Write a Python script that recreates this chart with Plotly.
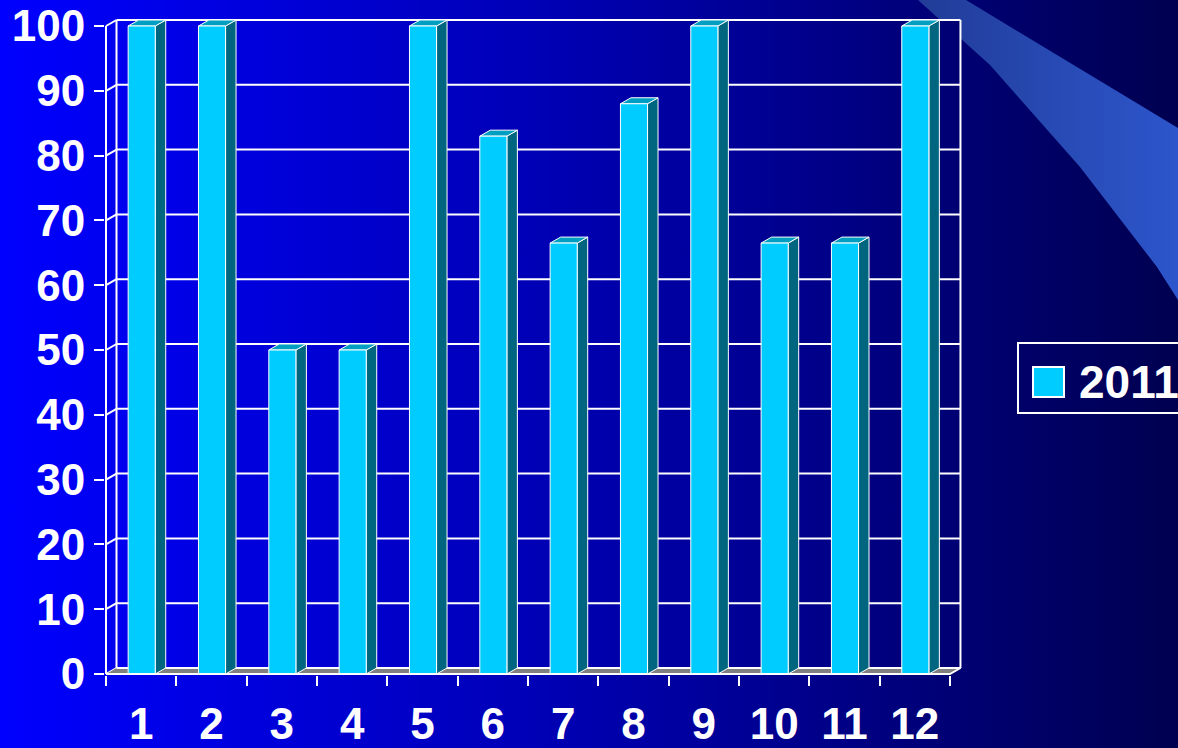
import base64
import plotly.graph_objects as go

# ---------------- data ----------------
categories = ["1", "2", "3", "4", "5", "6", "7", "8", "9", "10", "11", "12"]
values_2011 = [100, 100, 50, 50, 100, 83, 66.5, 88, 100, 66.5, 66.5, 100]
y_tick_values = [0, 10, 20, 30, 40, 50, 60, 70, 80, 90, 100]
series_name = "2011"

# ---------------- geometry / style ----------------
W, H = 1178, 748
ML, MR, MT, MB = 105, 216, 18, 73
PX_PER_CAT = 70.33          # pixels per category slot
PX_PER_UNIT = 6.48          # pixels per y unit
DX = 10.5 / PX_PER_CAT      # depth offset (x, data units)
DY = 6.0 / PX_PER_UNIT      # depth offset (y, data units)
X0 = 0.5 - 1 / PX_PER_CAT
X1 = 0.5 + (W - ML - MR - 1) / PX_PER_CAT
Y0 = -1 / PX_PER_UNIT
Y1 = (H - MT - MB - 1) / PX_PER_UNIT
BAR_L, BAR_R = 0.185, 0.2

FRONT = "#00CCFF"
SIDE = "#006680"
TOP = "#009EC0"
WHITE = "#FFFFFF"
FONT = dict(family="Liberation Sans, Arial, sans-serif", size=44, color=WHITE, weight="bold")

n = len(categories)
xs = list(range(1, n + 1))
xa, xb = 0.5, n + 0.5
ymax = max(y_tick_values)

fig = go.Figure()

def line_trace(px, py, width=2, color=WHITE):
    fig.add_trace(go.Scatter(x=px, y=py, mode="lines", line=dict(color=color, width=width),
                             hoverinfo="skip", showlegend=False))

def poly_trace(px, py, fill, lw=1, lc=WHITE):
    fig.add_trace(go.Scatter(x=px, y=py, mode="lines", fill="toself", fillcolor=fill,
                             line=dict(color=lc, width=lw), hoverinfo="skip", showlegend=False))

# back wall gridlines + left wall diagonals
gx, gy = [], []
for v in y_tick_values:
    gx += [xa + DX, xb + DX, None, xa, xa + DX, None]
    gy += [v + DY, v + DY, None, v, v + DY, None]
# wall verticals
gx += [xa + DX, xa + DX, None, xb + DX, xb + DX, None, xa, xa, None]
gy += [DY, ymax + DY, None, DY, ymax + DY, None, 0, ymax, None]
line_trace(gx, gy)

# floor
poly_trace([xa, xb, xb + DX, xa + DX, xa], [0, 0, DY, DY, 0], "#808080", lw=0, lc="rgba(0,0,0,0)")
line_trace([xa + DX, xb + DX], [DY, DY])

# bars (front, side, top)
fx, fy, sx, sy, tx, ty = [], [], [], [], [], []
for c, v in zip(xs, values_2011):
    l, r = c - BAR_L, c + BAR_R
    fx += [l, r, r, l, l, None]
    fy += [0, 0, v, v, 0, None]
    sx += [r, r + DX, r + DX, r, r, None]
    sy += [0, DY, v + DY, v, 0, None]
    tx += [l, r, r + DX, l + DX, l, None]
    ty += [v, v, v + DY, v + DY, v, None]
poly_trace(sx, sy, SIDE)
poly_trace(tx, ty, TOP)
poly_trace(fx, fy, FRONT)

# front edges of floor
line_trace([xa, xb, xb + DX], [0, 0, DY])

# ---------------- background (gradient + light beam) ----------------
svg = f"""<svg xmlns='http://www.w3.org/2000/svg' width='{W}' height='{H}' viewBox='0 0 {W} {H}' preserveAspectRatio='none'>
<defs>
<linearGradient id='bg' gradientUnits='userSpaceOnUse' x1='0' y1='0' x2='{W}' y2='0'>
<stop offset='0' stop-color='#0000FF'/><stop offset='0.5' stop-color='#0000AE'/><stop offset='1' stop-color='#000050'/>
</linearGradient>
<linearGradient id='beam' gradientUnits='userSpaceOnUse' x1='920' y1='0' x2='{W}' y2='0'>
<stop offset='0' stop-color='#213C98'/><stop offset='1' stop-color='#2D56CC'/>
</linearGradient>
</defs>
<rect x='0' y='0' width='{W}' height='{H}' fill='url(#bg)'/>
<path d='M918,0 L990,65 L1080,167 L1157,267 L1178,300 L1178,128 L966,0 Z' fill='url(#beam)'/>
<rect x='117' y='20' width='843' height='648' fill='url(#bg)'/>
</svg>"""
src = "data:image/svg+xml;base64," + base64.b64encode(svg.encode()).decode()
pw, ph = W - ML - MR, H - MT - MB
fig.add_layout_image(dict(source=src, xref="paper", yref="paper",
                          x=-ML / pw, y=1 + MT / ph, sizex=W / pw, sizey=H / ph,
                          xanchor="left", yanchor="top", sizing="stretch", layer="below"))

# ---------------- legend (drawn) ----------------
def px2paper(px, py):
    return (px - ML) / pw, (H - MB - py) / ph

lx0, ly0 = px2paper(1018, 413)
lx1, ly1 = px2paper(1190, 343)
fig.add_shape(type="rect", xref="paper", yref="paper", x0=lx0, y0=ly0, x1=lx1, y1=ly1,
              line=dict(color=WHITE, width=2), fillcolor="rgba(0,0,0,0)")
sx0, sy0 = px2paper(1033, 397)
sx1, sy1 = px2paper(1064, 367)
fig.add_shape(type="rect", xref="paper", yref="paper", x0=sx0, y0=sy0, x1=sx1, y1=sy1,
              line=dict(color=WHITE, width=2), fillcolor=FRONT)
tx0, ty0 = px2paper(1077, 382)
fig.add_annotation(xref="paper", yref="paper", x=tx0, y=ty0, text=series_name, showarrow=False,
                   xanchor="left", yanchor="middle", font=dict(FONT, size=46))

# ---------------- layout ----------------
fig.update_layout(
    width=W, height=H,
    margin=dict(l=ML, r=MR, t=MT, b=MB, pad=0, autoexpand=False),
    paper_bgcolor="#0000A0", plot_bgcolor="rgba(0,0,0,0)",
    showlegend=False,
    xaxis=dict(range=[X0, X1], tickmode="array", tickvals=xs, ticktext=categories,
               ticks="", showgrid=False, zeroline=False, showline=False, automargin=False,
               tickfont=FONT, ticklabelstandoff=19, fixedrange=True),
    xaxis2=dict(range=[X0, X1], overlaying="x", anchor="y", side="bottom",
                tickmode="array", tickvals=[xa + i for i in range(n + 1)],
                showticklabels=False, ticks="outside", ticklen=10, tickwidth=2, tickcolor=WHITE,
                showgrid=False, zeroline=False, showline=False, automargin=False, fixedrange=True),
    yaxis=dict(range=[Y0, Y1], tickmode="array", tickvals=y_tick_values,
               ticks="outside", ticklen=10, tickwidth=2, tickcolor=WHITE,
               showgrid=False, zeroline=False, showline=False, automargin=False,
               tickfont=FONT, ticklabelstandoff=0, fixedrange=True),
)
# dummy trace so xaxis2 is drawn
fig.add_trace(go.Scatter(x=[X0], y=[Y0], xaxis="x2", yaxis="y", mode="markers",
                         marker=dict(opacity=0), hoverinfo="skip", showlegend=False))

fig.write_html("out.html")
